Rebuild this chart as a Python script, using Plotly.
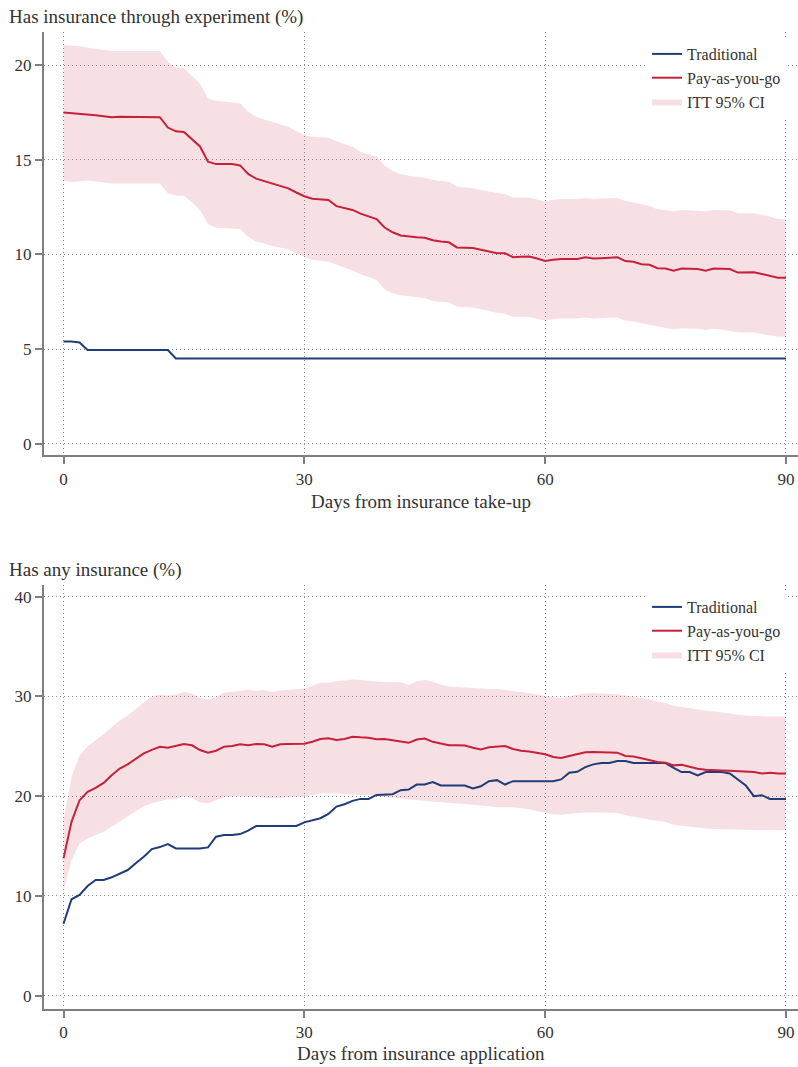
import plotly.graph_objects as go

days = list(range(0, 91))

# ---------------- Panel A: Has insurance through experiment (%) ----------------
a_trad = [5.4, 5.4, 5.35] + [4.95] * 11 + [4.5] * 77

a_payg = [17.5, 17.47, 17.45, 17.41, 17.35, 17.3, 17.25, 17.27, 17.27, 17.27,
          17.27, 17.27, 17.25, 16.7, 16.5, 16.47, 16.1, 15.7, 14.9, 14.77,
          14.77, 14.77, 14.7, 14.25, 14.0, 13.88, 13.73, 13.62, 13.49, 13.27,
          13.07, 12.94, 12.92, 12.87, 12.55, 12.45, 12.35, 12.15, 12.0, 11.87,
          11.42, 11.17, 11.0, 10.94, 10.9, 10.88, 10.75, 10.68, 10.64, 10.37,
          10.36, 10.34, 10.25, 10.15, 10.06, 10.06, 9.85, 9.87, 9.89, 9.78,
          9.65, 9.72, 9.76, 9.76, 9.76, 9.85, 9.78, 9.8, 9.83, 9.85,
          9.65, 9.61, 9.48, 9.45, 9.27, 9.25, 9.14, 9.25, 9.24, 9.23,
          9.14, 9.25, 9.24, 9.23, 9.04, 9.05, 9.06, 8.97, 8.88, 8.77, 8.77]

a_hi = [21.06, 21.03, 21.0, 20.92, 20.85, 20.8, 20.74, 20.74, 20.74, 20.74,
        20.74, 20.74, 20.74, 20.18, 19.86, 19.83, 19.45, 19.03, 18.24, 18.1,
        18.08, 18.05, 17.98, 17.53, 17.27, 17.12, 17.0, 16.9, 16.74, 16.5,
        16.3, 16.21, 16.18, 16.16, 15.98, 15.82, 15.69, 15.42, 15.3, 15.16,
        14.68, 14.4, 14.25, 14.15, 14.1, 14.05, 13.93, 13.88, 13.84, 13.58,
        13.53, 13.49, 13.4, 13.33, 13.26, 13.18, 13.01, 13.01, 13.01, 12.9,
        12.78, 12.88, 12.93, 12.93, 12.93, 12.98, 12.93, 12.95, 12.97, 12.98,
        12.82, 12.75, 12.66, 12.55, 12.38, 12.35, 12.28, 12.35, 12.33, 12.31,
        12.28, 12.35, 12.34, 12.33, 12.17, 12.17, 12.17, 12.08, 12.0, 11.87, 11.85]

a_lo = [13.88, 13.84, 13.87, 13.9, 13.85, 13.8, 13.75, 13.75, 13.75, 13.75,
        13.75, 13.75, 13.75, 13.23, 13.1, 13.1, 12.75, 12.34, 11.6, 11.41,
        11.4, 11.37, 11.34, 10.93, 10.67, 10.58, 10.44, 10.35, 10.27, 10.05,
        9.9, 9.72, 9.66, 9.61, 9.45, 9.3, 9.15, 8.95, 8.8, 8.65,
        8.15, 7.95, 7.84, 7.78, 7.74, 7.7, 7.54, 7.5, 7.47, 7.24,
        7.21, 7.19, 7.1, 7.0, 6.92, 6.85, 6.71, 6.71, 6.71, 6.6,
        6.5, 6.58, 6.62, 6.62, 6.62, 6.67, 6.62, 6.64, 6.66, 6.67,
        6.5, 6.45, 6.36, 6.28, 6.18, 6.1, 6.04, 6.1, 6.1, 6.08,
        6.01, 6.08, 6.03, 5.97, 5.89, 5.88, 5.87, 5.8, 5.73, 5.65, 5.65]

# ---------------- Panel B: Has any insurance (%) ----------------
b_trad = [7.21, 9.67, 10.1, 11.0, 11.6, 11.6, 11.87, 12.2, 12.6, 13.27,
          13.93, 14.7, 14.9, 15.2, 14.77, 14.77, 14.77, 14.77, 14.87, 15.94,
          16.1, 16.1, 16.2, 16.54, 17.01, 17.01, 17.01, 17.01, 17.01, 17.01,
          17.38, 17.55, 17.79, 18.22, 18.96, 19.19, 19.53, 19.73, 19.73, 20.13,
          20.2, 20.2, 20.6, 20.67, 21.17, 21.17, 21.41, 21.07, 21.07, 21.07,
          21.07, 20.77, 21.0, 21.51, 21.61, 21.17, 21.51, 21.51, 21.51, 21.51,
          21.51, 21.51, 21.68, 22.35, 22.45, 22.92, 23.19, 23.32, 23.32, 23.52,
          23.52, 23.32, 23.32, 23.32, 23.32, 23.32, 22.85, 22.42, 22.42, 22.08,
          22.42, 22.42, 22.42, 22.28, 21.68, 21.07, 20.0, 20.1, 19.73, 19.73, 19.73]

b_payg = [13.77, 17.43, 19.6, 20.43, 20.83, 21.33, 22.1, 22.77, 23.2, 23.77,
          24.3, 24.65, 24.95, 24.86, 25.03, 25.23, 25.1, 24.63, 24.36, 24.56,
          24.96, 25.03, 25.2, 25.1, 25.23, 25.2, 24.96, 25.2, 25.22, 25.23,
          25.25, 25.46, 25.73, 25.8, 25.63, 25.73, 25.96, 25.9, 25.86, 25.7,
          25.73, 25.6, 25.5, 25.35, 25.68, 25.78, 25.45, 25.3, 25.11, 25.1,
          25.08, 24.85, 24.68, 24.91, 24.98, 25.03, 24.73, 24.55, 24.48, 24.35,
          24.2, 23.93, 23.83, 24.03, 24.2, 24.4, 24.43, 24.43, 24.4, 24.36,
          24.03, 23.97, 23.8, 23.6, 23.42, 23.36, 23.09, 23.16, 22.96, 22.75,
          22.65, 22.58, 22.58, 22.55, 22.5, 22.45, 22.42, 22.28, 22.35, 22.28, 22.28]

b_hi = [17.6, 21.9, 24.1, 25.0, 25.6, 26.2, 26.9, 27.6, 28.1, 28.8,
        29.4, 30.0, 30.2, 30.1, 30.2, 30.44, 30.3, 29.87, 29.7, 29.97,
        30.37, 30.47, 30.54, 30.7, 30.54, 30.64, 30.44, 30.6, 30.65, 30.7,
        30.8, 31.1, 31.38, 31.38, 31.54, 31.6, 31.71, 31.65, 31.54, 31.5,
        31.44, 31.44, 31.41, 31.14, 31.5, 31.68, 31.48, 31.2, 31.0, 30.95,
        30.9, 30.8, 30.75, 30.74, 30.74, 30.65, 30.57, 30.45, 30.35, 30.2,
        30.07, 29.9, 29.8, 30.0, 30.2, 30.3, 30.34, 30.3, 30.25, 30.23,
        30.1, 30.0, 29.85, 29.73, 29.5, 29.33, 29.06, 28.99, 28.85, 28.7,
        28.6, 28.5, 28.4, 28.25, 28.15, 28.08, 28.05, 28.0, 27.99, 27.99, 27.99]

b_lo = [10.43, 13.6, 15.27, 15.77, 16.1, 16.43, 16.93, 17.5, 18.0, 18.5,
        19.0, 19.3, 19.5, 19.7, 19.7, 19.97, 19.8, 19.36, 19.3, 19.63,
        19.9, 19.95, 20.03, 19.95, 19.9, 19.88, 19.8, 19.85, 19.9, 19.93,
        19.97, 20.1, 20.3, 20.3, 20.3, 20.2, 20.13, 20.13, 20.13, 20.0,
        19.9, 19.85, 19.8, 19.66, 19.6, 19.56, 19.5, 19.4, 19.33, 19.3,
        19.26, 19.15, 19.06, 18.97, 18.89, 18.89, 18.89, 18.78, 18.7, 18.5,
        18.32, 18.2, 18.15, 18.25, 18.32, 18.36, 18.39, 18.36, 18.33, 18.32,
        18.1, 17.92, 17.8, 17.65, 17.52, 17.42, 17.15, 17.05, 16.95, 16.81,
        16.76, 16.71, 16.68, 16.64, 16.64, 16.64, 16.62, 16.6, 16.58, 16.58, 16.58]

x_ticks = [0, 30, 60, 90]
a_yticks = [0, 5, 10, 15, 20]
b_yticks = [0, 10, 20, 30, 40]
titles = ["Has insurance through experiment (%)", "Has any insurance (%)"]
xtitles = ["Days from insurance take-up", "Days from insurance application"]
names = ["Traditional", "Pay-as-you-go", "ITT 95% CI"]

NAVY = "#1f3c78"
RED = "#c6203a"
FILL = "rgba(198,32,58,0.14)"
AXIS = "#7f7f7f"
GRID = "#8c8c8c"
TXT = "#333333"
FONT = "Liberation Serif"

W, H = 798, 1067

fig = go.Figure()

panels = [
    ("x", "y", "legend", a_trad, a_payg, a_lo, a_hi),
    ("x2", "y2", "legend2", b_trad, b_payg, b_lo, b_hi),
]
for xa, ya, lg, trad, payg, lo, hi in panels:
    fig.add_trace(go.Scatter(x=days, y=lo, mode="lines", line=dict(width=0, color=FILL),
                             showlegend=False, hoverinfo="skip", xaxis=xa, yaxis=ya, legend=lg))
    fig.add_trace(go.Scatter(x=days, y=hi, mode="lines", line=dict(width=0, color=FILL),
                             fill="tonexty", fillcolor=FILL, name=names[2], legendrank=3,
                             xaxis=xa, yaxis=ya, legend=lg))
    fig.add_trace(go.Scatter(x=days, y=trad, mode="lines", line=dict(width=2, color=NAVY),
                             name=names[0], legendrank=1, xaxis=xa, yaxis=ya, legend=lg))
    fig.add_trace(go.Scatter(x=days, y=payg, mode="lines", line=dict(width=2, color=RED),
                             name=names[1], legendrank=2, xaxis=xa, yaxis=ya, legend=lg))


def px_x(p):
    return p / W


def px_y(p):
    return 1 - p / H


common_axis = dict(
    showline=True, linewidth=2, linecolor=AXIS,
    ticks="outside", ticklen=7, tickwidth=2, tickcolor=AXIS,
    showgrid=True, gridcolor=GRID, gridwidth=1, griddash="1px,3px",
    zeroline=False, tickfont=dict(family=FONT, size=17, color=TXT),
    mirror=False,
)

xrange = [-2.43, 91.5]
legend_common = dict(xanchor="left", yanchor="top", bgcolor="white", borderwidth=0,
                     font=dict(family=FONT, size=16, color=TXT),
                     itemwidth=30, tracegroupgap=0, traceorder="normal")
fig.update_layout(
    width=W, height=H,
    margin=dict(l=0, r=0, t=0, b=0),
    paper_bgcolor="white", plot_bgcolor="white",
    font=dict(family=FONT, color=TXT),
    xaxis=dict(domain=[px_x(44), 1], range=xrange, tickvals=x_ticks, anchor="y", **common_axis),
    yaxis=dict(domain=[px_y(455.3), px_y(32.3)], range=[-0.61, 21.73], tickvals=a_yticks,
               anchor="x", **common_axis),
    xaxis2=dict(domain=[px_x(44), 1], range=xrange, tickvals=x_ticks, anchor="y2", **common_axis),
    yaxis2=dict(domain=[px_y(1008.7), px_y(585)], range=[-1.3, 41.17], tickvals=b_yticks,
                anchor="x2", **common_axis),
    legend=dict(x=px_x(647), y=px_y(37), **legend_common),
    legend2=dict(x=px_x(647), y=px_y(590), **legend_common),
    showlegend=True,
)

annots = [
    (titles[0], 7, 17, "left"),
    (titles[1], 7, 570, "left"),
    (xtitles[0], 421, 501, "center"),
    (xtitles[1], 421, 1053, "center"),
]
for text, xp, yp, xanchor in annots:
    fig.add_annotation(text=text, xref="paper", yref="paper", x=px_x(xp), y=px_y(yp),
                       xanchor=xanchor, yanchor="middle", showarrow=False,
                       font=dict(family=FONT, size=19, color=TXT))

fig.write_html("out.html")
